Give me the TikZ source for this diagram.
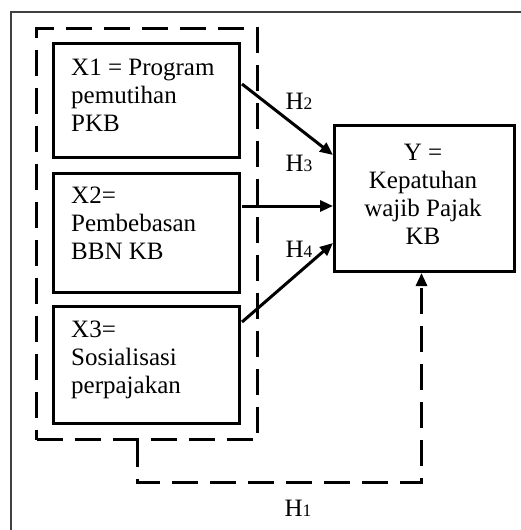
\documentclass[tikz,border=0pt]{standalone}
\usepackage{fontspec}
\setmainfont{Liberation Serif}
\usetikzlibrary{arrows.meta,calc}
\newcommand\hyplab[1]{H{\fontsize{17.5}{17.5}\selectfont #1}}
\begin{document}
\begin{tikzpicture}[x=1pt,y=-1pt,
  box/.style={draw=black,line width=3pt,rectangle,inner sep=0pt,anchor=north west},
  grpbox/.style={draw=black,line width=3pt,rectangle,inner sep=0pt,anchor=north west,dash pattern=on 26pt off 12pt},
  txt/.style={inner sep=0pt,font=\fontsize{25}{28.3}\selectfont},
  hlab/.style={inner sep=0pt,anchor=base,font=\fontsize{25}{28}\selectfont},
  conn/.style={line width=3pt,-{Triangle[length=13pt,width=11pt]}},
  dconn/.style={line width=3pt,dash pattern=on 26pt off 12pt,-{Triangle[length=13pt,width=11pt]}}]
\useasboundingbox (0,0) rectangle (521,530);
% outer frame (only top and left edges visible)
\coordinate (fbl) at (11,530);
\coordinate (ftl) at (11,12);
\coordinate (ftr) at (521,12);
\draw[line width=1.3pt,black!75] (fbl) -- (ftl) -- (ftr);
% dashed group
\node[grpbox,minimum width=221pt,minimum height=411pt] (grp) at (35,27) {};
% boxes
\node[box,minimum width=186pt,minimum height=114pt] (x1) at (52,42) {};
\node[box,minimum width=186pt,minimum height=119pt] (x2) at (52,172) {};
\node[box,minimum width=186pt,minimum height=117pt] (x3) at (52,305) {};
\node[box,minimum width=180pt,minimum height=146pt] (y) at (333,124) {};
% texts
\node[txt,anchor=north west,align=left] (t1) at (71,58.5) {X1 = Program\\pemutihan\\PKB};
\node[txt,anchor=north west,align=left] (t2) at (71,186.5) {X2=\\Pembebasan\\BBN KB};
\node[txt,anchor=north west,align=left] (t3) at (71,320.5) {X3=\\Sosialisasi\\perpajakan};
\node[txt,anchor=north,align=center] (ty) at (423,143.5) {Y =\\Kepatuhan\\wajib Pajak\\KB};
% arrows
\draw[conn] ($(x1.north east)+(1,42)$) -- ($(y.north west)+(0,31)$);
\draw[conn] ($(x2.north east)+(1,34)$) -- ($(y.north west)+(0,82)$);
\draw[conn] ($(x3.north east)+(1,17)$) -- ($(y.north west)+(0,119)$);
% H1 dashed path
\coordinate (n1) at ($(grp.south west)+(102,0)$);
\coordinate (n2) at ($(n1)+(0,41)$);
\coordinate (n3) at ($(y.south)+(-3,209)$);
\draw[dconn] (n1) -- (n2) -- (n3) -- ($(y.south)+(-3,0)$);
% labels
\node[hlab] (h2) at (299,109) {\hyplab{2}};
\node[hlab] (h3) at (299,171) {\hyplab{3}};
\node[hlab] (h4) at (299,257) {\hyplab{4}};
\node[hlab] (h1) at (298,516) {\hyplab{1}};
\end{tikzpicture}
\end{document}
